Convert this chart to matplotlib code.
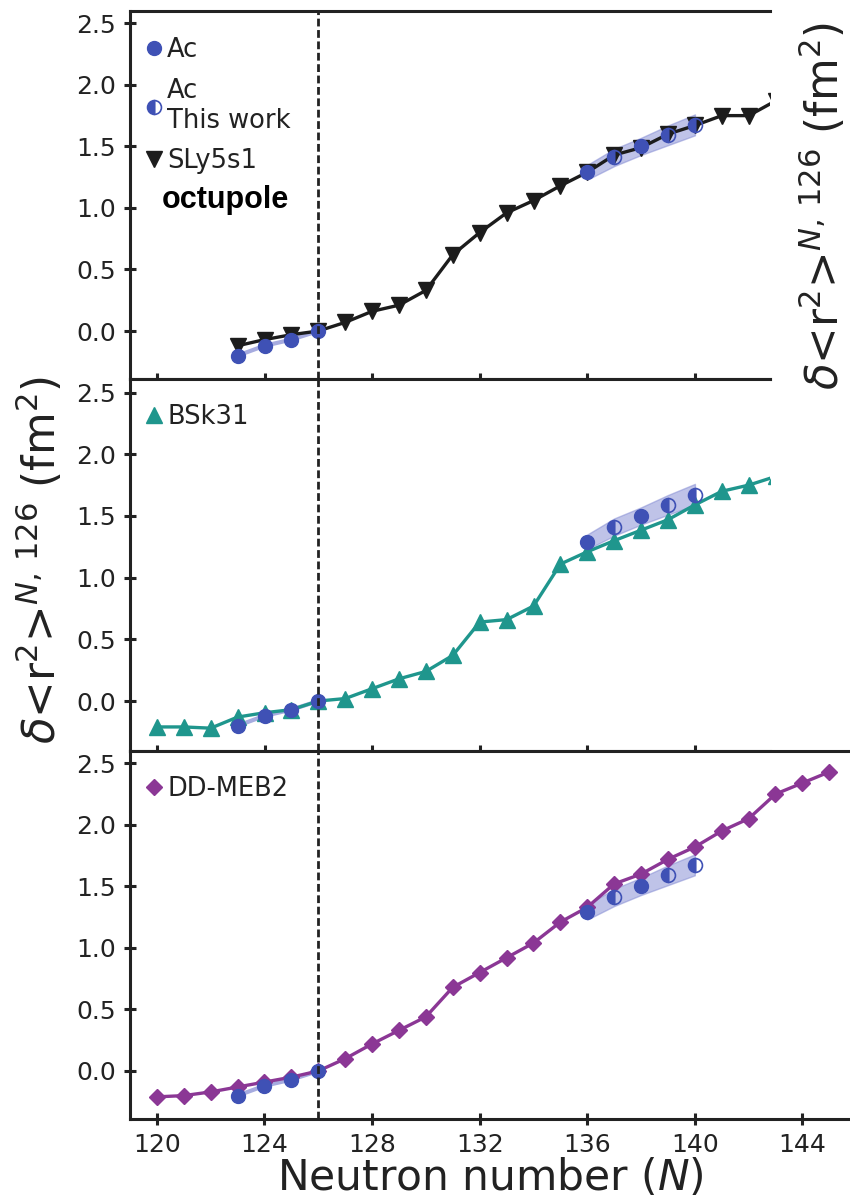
# Charge radii differences for Ac isotopes compared with three model calculations
import numpy as np
import matplotlib.pyplot as plt
from matplotlib.lines import Line2D

# --- data ---
sly5s1_n = np.arange(123, 144)
sly5s1 = [-0.12, -0.07, -0.03, 0.00, 0.07, 0.16, 0.21, 0.33, 0.62, 0.80,
          0.96, 1.06, 1.18, 1.29, 1.43, 1.49, 1.60, 1.67, 1.75, 1.75, 1.87]

bsk31_n = np.arange(120, 144)
bsk31 = [-0.21, -0.21, -0.22, -0.13, -0.095, -0.07, 0.00, 0.02, 0.10, 0.18,
         0.24, 0.37, 0.64, 0.66, 0.77, 1.11, 1.21, 1.30, 1.385, 1.47,
         1.59, 1.70, 1.75, 1.82]

ddmeb2_n = np.arange(120, 146)
ddmeb2 = [-0.21, -0.20, -0.17, -0.13, -0.09, -0.05, 0.00, 0.10, 0.22, 0.33,
          0.44, 0.68, 0.80, 0.92, 1.04, 1.21, 1.33, 1.52, 1.60, 1.72,
          1.82, 1.95, 2.05, 2.25, 2.34, 2.43]

# Ac experimental (literature)
ac_n = [123, 124, 125, 126, 136, 138]
ac = [-0.20, -0.12, -0.07, 0.00, 1.29, 1.50]
# Ac this work
acw_n = [137, 139, 140]
acw = [1.41, 1.59, 1.67]
# uncertainty band
band_n = [136, 137, 138, 139, 140]
band_lo = [1.23, 1.34, 1.43, 1.51, 1.59]
band_hi = [1.35, 1.48, 1.57, 1.67, 1.76]
low_n = [123, 124, 125, 126]
low_v = [-0.20, -0.12, -0.07, 0.00]

c_ac = '#3f51b5'
c_band = '#8088d2'
models = [
    (sly5s1_n, sly5s1, 'v', '#1c1c1c', 'SLy5s1', 11.5),
    (bsk31_n, bsk31, '^', '#1f968d', 'BSk31', 12),
    (ddmeb2_n, ddmeb2, 'D', '#8b3795', 'DD-MEB2', 8.5),
]

plt.rcParams['font.family'] = 'DejaVu Sans'
fig = plt.figure(figsize=(8.5, 12), dpi=100)

W, H = 850, 1200
ax1 = fig.add_axes([130/W, 1-379/H, 640/W, 368/H])
ax2 = fig.add_axes([130/W, 1-751/H, 640/W, 372/H])
ax3 = fig.add_axes([130/W, 1-1119/H, 720/W, 368/H])
axes = [ax1, ax2, ax3]

ylab = r'$\delta$<r$^2$>$^{N,\,126}$ (fm$^2$)'

for i, ax in enumerate(axes):
    mn, mv, mk, col, name, ms = models[i]
    ax.fill_between(band_n, band_lo, band_hi, color=c_band, alpha=0.5,
                    lw=1, zorder=1)
    ax.plot(low_n, low_v, color=c_band, lw=3, alpha=0.7, zorder=1)
    ax.plot(mn, mv, marker=mk, color=col, ms=ms, lw=2.4, zorder=2)
    ax.plot(ac_n, ac, 'o', color=c_ac, ms=10, zorder=3)
    ax.plot(acw_n, acw, 'o', color=c_ac, mec=c_ac, ms=10, fillstyle='left',
            markerfacecoloralt='none', mew=1.2, zorder=3)
    ax.axvline(126, color='#222222', ls=(0, (2.8, 1.3)), lw=2, zorder=4)

    ax.set_xticks(np.arange(120, 145, 4))
    ax.set_yticks(np.arange(0, 2.51, 0.5))
    if i < 2:
        ax.set_xlim(119, 142.79)
        ax.tick_params(axis='x', labelbottom=False)
    else:
        ax.set_xlim(119, 145.77)
    if i == 1:
        ax.set_ylim(-0.405, 2.61)
    else:
        ax.set_ylim(-0.39, 2.6)
    ax.tick_params(direction='inout', length=8, width=2.2, labelsize=18,
                   pad=6, color='#222222', labelcolor='#222222')
    ax.spines['right'].set_visible(False)
    for s in ['left', 'top', 'bottom']:
        ax.spines[s].set_linewidth(2.2)
        ax.spines[s].set_color('#222222')

    if i == 0:
        handles = [
            Line2D([], [], ls='', marker='o', color=c_ac, ms=10),
            Line2D([], [], ls='', marker='o', color=c_ac, ms=10, fillstyle='left',
                   markerfacecoloralt='none', mew=1.2),
            Line2D([], [], ls='', marker=mk, color=col, ms=ms),
        ]
        labels = ['Ac', 'Ac\nThis work', name]
        top = 0.97
    else:
        handles = [Line2D([], [], ls='', marker=mk, color=col, ms=ms)]
        labels = [name]
        top = 0.975
    ax.legend(handles, labels, loc='upper left', bbox_to_anchor=(0.0, top),
              frameon=False, fontsize=18.5, handlelength=0.7,
              handletextpad=0.15, labelspacing=0.55, borderaxespad=0.2,
              labelcolor='#222222')

ax1.text(0.05, 0.486, 'octupole', transform=ax1.transAxes, fontsize=22,
         fontweight='bold', family='Liberation Sans', va='center', ha='left')

ax3.set_xlabel('Neutron number ($N$)', fontsize=30.5, color='#222222', labelpad=0)
fig.text(40/W, 1-560/H, ylab, rotation=90, fontsize=31.5, ha='center',
         va='center', color='#222222')
fig.text(823/W, 1-206/H, ylab, rotation=90, fontsize=31.5, ha='center',
         va='center', color='#222222')

fig.savefig('out.png', dpi=100)
